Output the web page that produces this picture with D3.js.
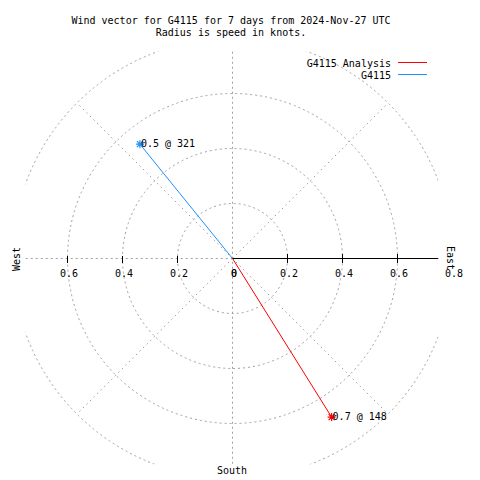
<!DOCTYPE html>
<html><head><meta charset="utf-8">
<script src="https://cdn.jsdelivr.net/npm/d3@7"></script>
<style>body{margin:0;background:#fff}svg{display:block}text{font-family:"DejaVu Sans Mono",monospace;font-size:10px;fill:#000}</style>
</head><body><svg id="c" width="480" height="480"></svg>
<script>
const titleLines = ["Wind vector for G4115 for 7 days from 2024-Nov-27 UTC", "Radius is speed in knots."];
const seriesNames = ["G4115 Analysis", "G4115"];
const seriesColors = ["#ff0000", "#1e90ff"];
const speeds = [0.68, 0.535];
const directions = [148, 321];
const ringValues = [0.2, 0.4, 0.6, 0.8];
const tickValues = [0.2, 0.4, 0.6];
const rightTickLabels = [0, 0.2, 0.4, 0.6, 0.8];
const leftTickLabels = [0, 0.2, 0.4, 0.6];
const compassLabels = ["East", "South", "West"];

const svg = d3.select("#c");
const cx = 232, cy = 258;
const r = d3.scaleLinear().domain([0, 0.8]).range([0, 220]);
const xR = d3.scaleLinear().domain([0, 0.8]).range([cx, cx + 220]);
const xL = d3.scaleLinear().domain([0, 0.8]).range([cx, cx - 220]);
const extent = 0.75;
const gray = "#a0a0a0", dash = "2,3";

svg.append("clipPath").attr("id", "clip").append("rect")
  .attr("x", cx - r(extent)).attr("y", cy - r(extent))
  .attr("width", 2 * r(extent)).attr("height", 2 * r(extent));

svg.selectAll("text.title").data(titleLines).join("text").attr("class", "title")
  .attr("x", 231).attr("y", (d, i) => 24 + i * 12).attr("text-anchor", "middle").text(d => d);

const grid = svg.append("g").attr("clip-path", "url(#clip)");
grid.selectAll("circle").data(ringValues).join("circle")
  .attr("cx", cx + 0.5).attr("cy", cy + 0.5).attr("r", d => r(d))
  .attr("fill", "none").attr("stroke", gray).attr("stroke-dasharray", dash);
grid.selectAll("line.diag").data([45, 135, 225, 315]).join("line").attr("class", "diag")
  .attr("x1", cx + 0.5).attr("y1", cy + 0.5)
  .attr("x2", a => cx + 0.5 + r(0.8) * Math.sin(a * Math.PI / 180))
  .attr("y2", a => cy + 0.5 - r(0.8) * Math.cos(a * Math.PI / 180))
  .attr("stroke", gray).attr("stroke-dasharray", "1.5,3.5");
svg.append("line").attr("x1", cx + 0.5).attr("x2", cx + 0.5).attr("y1", cy - r(extent)).attr("y2", cy + r(extent))
  .attr("stroke", gray).attr("stroke-dasharray", dash);
svg.append("line").attr("x1", xL(extent)).attr("x2", cx).attr("y1", cy + 0.5).attr("y2", cy + 0.5)
  .attr("stroke", gray).attr("stroke-dasharray", dash);
svg.append("line").attr("x1", cx).attr("x2", xR(extent)).attr("y1", cy + 0.5).attr("y2", cy + 0.5)
  .attr("stroke", "#000");
svg.selectAll("line.tr").data(tickValues).join("line").attr("class", "tr")
  .attr("x1", d => Math.round(xR(d)) + 0.5).attr("x2", d => Math.round(xR(d)) + 0.5)
  .attr("y1", cy - 4).attr("y2", cy + 5).attr("stroke", "#000");
svg.selectAll("line.tl").data(tickValues).join("line").attr("class", "tl")
  .attr("x1", d => Math.round(xL(d)) + 0.5).attr("x2", d => Math.round(xL(d)) + 0.5)
  .attr("y1", cy - 2).attr("y2", cy + 5).attr("stroke", "#000");
svg.selectAll("text.lr").data(rightTickLabels).join("text").attr("class", "lr")
  .attr("x", d => xR(d) + 2).attr("y", cy + 19).attr("text-anchor", "middle").text(d => String(d));
svg.selectAll("text.ll").data(leftTickLabels).join("text").attr("class", "ll")
  .attr("x", d => xL(d) + 2).attr("y", cy + 19).attr("text-anchor", "middle").text(d => String(d));

svg.append("text").attr("transform", `translate(447,${cy}) rotate(90)`).attr("text-anchor", "middle").text(compassLabels[0]);
svg.append("text").attr("x", cx).attr("y", 474).attr("text-anchor", "middle").text(compassLabels[1]);
svg.append("text").attr("transform", `translate(20,${cy + 1}) rotate(-90)`).attr("text-anchor", "middle").text(compassLabels[2]);

const vec = seriesNames.map((n, i) => ({ name: n, color: seriesColors[i], s: speeds[i], dir: directions[i] }));
const px = d => cx + 0.5 + r(d.s) * Math.sin(d.dir * Math.PI / 180);
const py = d => cy + 0.5 - r(d.s) * Math.cos(d.dir * Math.PI / 180);
const order = [1, 0];
const vg = svg.selectAll("g.vec").data(order.map(i => vec[i])).join("g").attr("class", "vec");
vg.append("line").attr("x1", cx + 0.5).attr("y1", cy + 0.5).attr("x2", px).attr("y2", py)
  .attr("stroke", d => d.color);
vg.append("path").attr("d", d => {
  const x = px(d), y = py(d), k = 4, m = 3;
  return `M${x - k},${y}L${x + k},${y}M${x},${y - k}L${x},${y + k}M${x - m},${y - m}L${x + m},${y + m}M${x - m},${y + m}L${x + m},${y - m}`;
}).attr("stroke", d => d.color).attr("stroke-width", 1.2);
vg.append("text").attr("x", d => px(d) + 1).attr("y", d => py(d) + 3)
  .text(d => `${d3.format(".1f")(d.s)} @ ${d.dir}`);

const lg = svg.selectAll("g.leg").data(vec).join("g").attr("class", "leg");
lg.append("text").attr("x", 391).attr("y", (d, i) => 67 + i * 12).attr("text-anchor", "end").text(d => d.name);
lg.append("line").attr("x1", 398).attr("x2", 427).attr("y1", (d, i) => 62.5 + i * 12).attr("y2", (d, i) => 62.5 + i * 12)
  .attr("stroke", d => d.color);
</script></body></html>
